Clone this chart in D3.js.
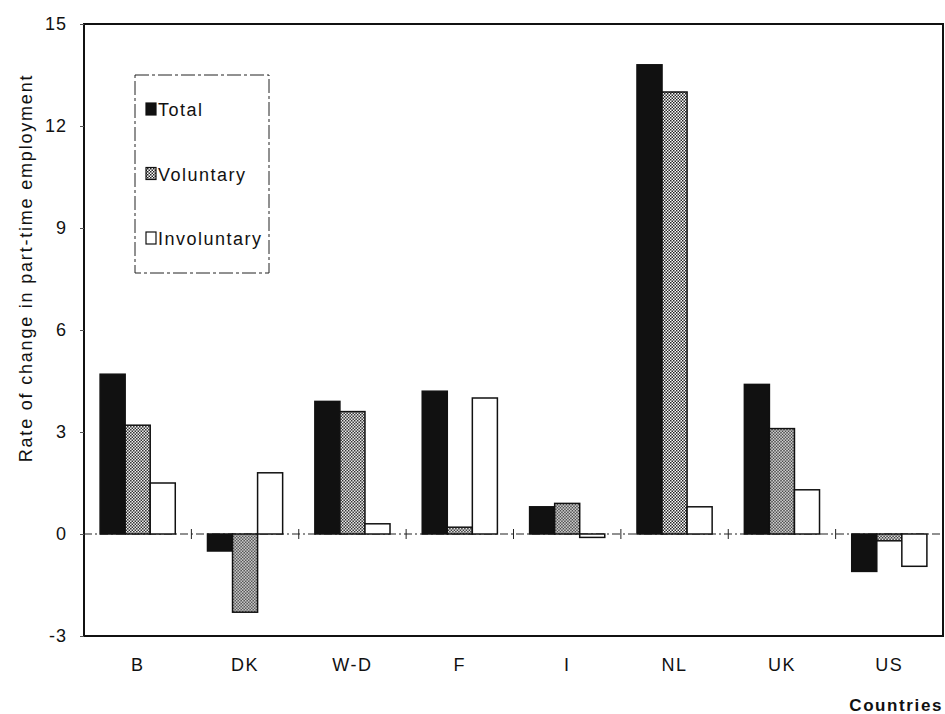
<!DOCTYPE html>
<html>
<head>
<meta charset="utf-8">
<script src="https://cdn.jsdelivr.net/npm/d3@7"></script>
<style>
  body { margin: 0; background: #fff; }
  svg text { font-family: "Liberation Sans", Arial, sans-serif; fill: #111; }
</style>
</head>
<body>
<div id="chart"></div>
<script>
// data
const countries = ["B", "DK", "W-D", "F", "I", "NL", "UK", "US"];
const series = ["Total", "Voluntary", "Involuntary"];
const total = [4.7, -0.5, 3.9, 4.2, 0.8, 13.8, 4.4, -1.1];
const voluntary = [3.2, -2.3, 3.6, 0.2, 0.9, 13.0, 3.1, -0.2];
const involuntary = [1.5, 1.8, 0.3, 4.0, -0.1, 0.8, 1.3, -0.95];
const yTicks = [-3, 0, 3, 6, 9, 12, 15];

const values = { Total: total, Voluntary: voluntary, Involuntary: involuntary };

const width = 945;
const height = 714;
const marginTop = 24;
const marginRight = 2;
const marginBottom = 78;
const marginLeft = 84;

const svg = d3.select("#chart").append("svg")
    .attr("width", width)
    .attr("height", height);

// fill patterns
const defs = svg.append("defs");
const pat = defs.append("pattern")
    .attr("id", "dots")
    .attr("width", 3)
    .attr("height", 3)
    .attr("patternUnits", "userSpaceOnUse");
pat.append("rect").attr("width", 3).attr("height", 3).attr("fill", "#fff");
pat.append("rect").attr("width", 1.5).attr("height", 1.5).attr("fill", "#222");
pat.append("rect").attr("x", 1.5).attr("y", 1.5).attr("width", 1.5).attr("height", 1.5).attr("fill", "#222");

const fills = { Total: "#111", Voluntary: "url(#dots)", Involuntary: "#fff" };

const x = d3.scaleBand()
    .domain(countries)
    .range([marginLeft, width - marginRight])
    .paddingInner(0.3)
    .paddingOuter(0.15);

const xSub = d3.scaleBand()
    .domain(series)
    .range([0, x.bandwidth()]);

const y = d3.scaleLinear()
    .domain([-3, 15])
    .range([height - marginBottom, marginTop]);

// frame
svg.append("rect")
    .attr("x", marginLeft)
    .attr("y", marginTop)
    .attr("width", width - marginRight - marginLeft)
    .attr("height", height - marginBottom - marginTop)
    .attr("fill", "none")
    .attr("stroke", "#111")
    .attr("stroke-width", 2);

// y axis
const yAxis = svg.append("g")
    .attr("transform", `translate(${marginLeft},0)`)
    .call(d3.axisLeft(y).tickValues(yTicks).tickFormat(d => String(d)).tickSize(4).tickPadding(13));
yAxis.select(".domain").remove();
yAxis.selectAll("line").attr("stroke", "#555");
yAxis.selectAll("text")
    .style("font-size", "18px")
    .style("font-family", "Liberation Sans, Arial, sans-serif")
    .style("letter-spacing", "1px");

// zero line, dash-dot, with small separators between countries
svg.append("line")
    .attr("x1", marginLeft)
    .attr("x2", width - marginRight)
    .attr("y1", y(0))
    .attr("y2", y(0))
    .attr("stroke", "#222")
    .attr("stroke-width", 1.2)
    .attr("stroke-dasharray", "8,3,2,3");

svg.append("g")
    .selectAll("line")
    .data(countries.slice(1))
    .join("line")
    .attr("x1", d => x(d) - x.step() * x.paddingInner() / 2)
    .attr("x2", d => x(d) - x.step() * x.paddingInner() / 2)
    .attr("y1", y(0) - 5)
    .attr("y2", y(0) + 5)
    .attr("stroke", "#222")
    .attr("stroke-width", 1);

// bars
const groups = svg.append("g")
    .selectAll("g")
    .data(countries)
    .join("g")
    .attr("transform", d => `translate(${x(d)},0)`);

groups.selectAll("rect")
    .data((c, i) => series.map(s => ({ key: s, value: values[s][i] })))
    .join("rect")
    .attr("x", d => xSub(d.key))
    .attr("y", d => y(Math.max(0, d.value)))
    .attr("width", xSub.bandwidth())
    .attr("height", d => Math.abs(y(d.value) - y(0)))
    .attr("fill", d => fills[d.key])
    .attr("stroke", "#111")
    .attr("stroke-width", 1.5);

// x labels
svg.append("g")
    .selectAll("text")
    .data(countries)
    .join("text")
    .attr("x", d => x(d) + x.bandwidth() / 2)
    .attr("y", 671)
    .attr("text-anchor", "middle")
    .style("font-size", "18px")
    .style("letter-spacing", "1.5px")
    .text(d => d);

svg.append("text")
    .attr("x", width - 2)
    .attr("y", 711)
    .attr("text-anchor", "end")
    .style("font-size", "17px")
    .style("font-weight", "bold")
    .style("letter-spacing", "1.6px")
    .text("Countries");

svg.append("text")
    .attr("transform", "translate(32,268) rotate(-90)")
    .attr("text-anchor", "middle")
    .style("font-size", "18px")
    .style("letter-spacing", "1.8px")
    .text("Rate of change in part-time employment");

// legend
const legend = svg.append("g")
    .attr("transform", "translate(135,75)");

legend.append("rect")
    .attr("width", 134)
    .attr("height", 198)
    .attr("fill", "#fff")
    .attr("stroke", "#222")
    .attr("stroke-width", 1)
    .attr("stroke-dasharray", "14,3,3,3");

legend.selectAll("rect.sw")
    .data(series)
    .join("rect")
    .attr("class", "sw")
    .attr("x", 11)
    .attr("y", (d, i) => 28 + i * 64.5)
    .attr("width", 10)
    .attr("height", 12)
    .attr("fill", d => fills[d])
    .attr("stroke", "#111")
    .attr("stroke-width", 1.2);

legend.selectAll("text")
    .data(series)
    .join("text")
    .attr("x", 23)
    .attr("y", (d, i) => 41 + i * 64.5)
    .style("font-size", "18px")
    .style("letter-spacing", "1.5px")
    .text(d => d);
</script>
</body>
</html>
